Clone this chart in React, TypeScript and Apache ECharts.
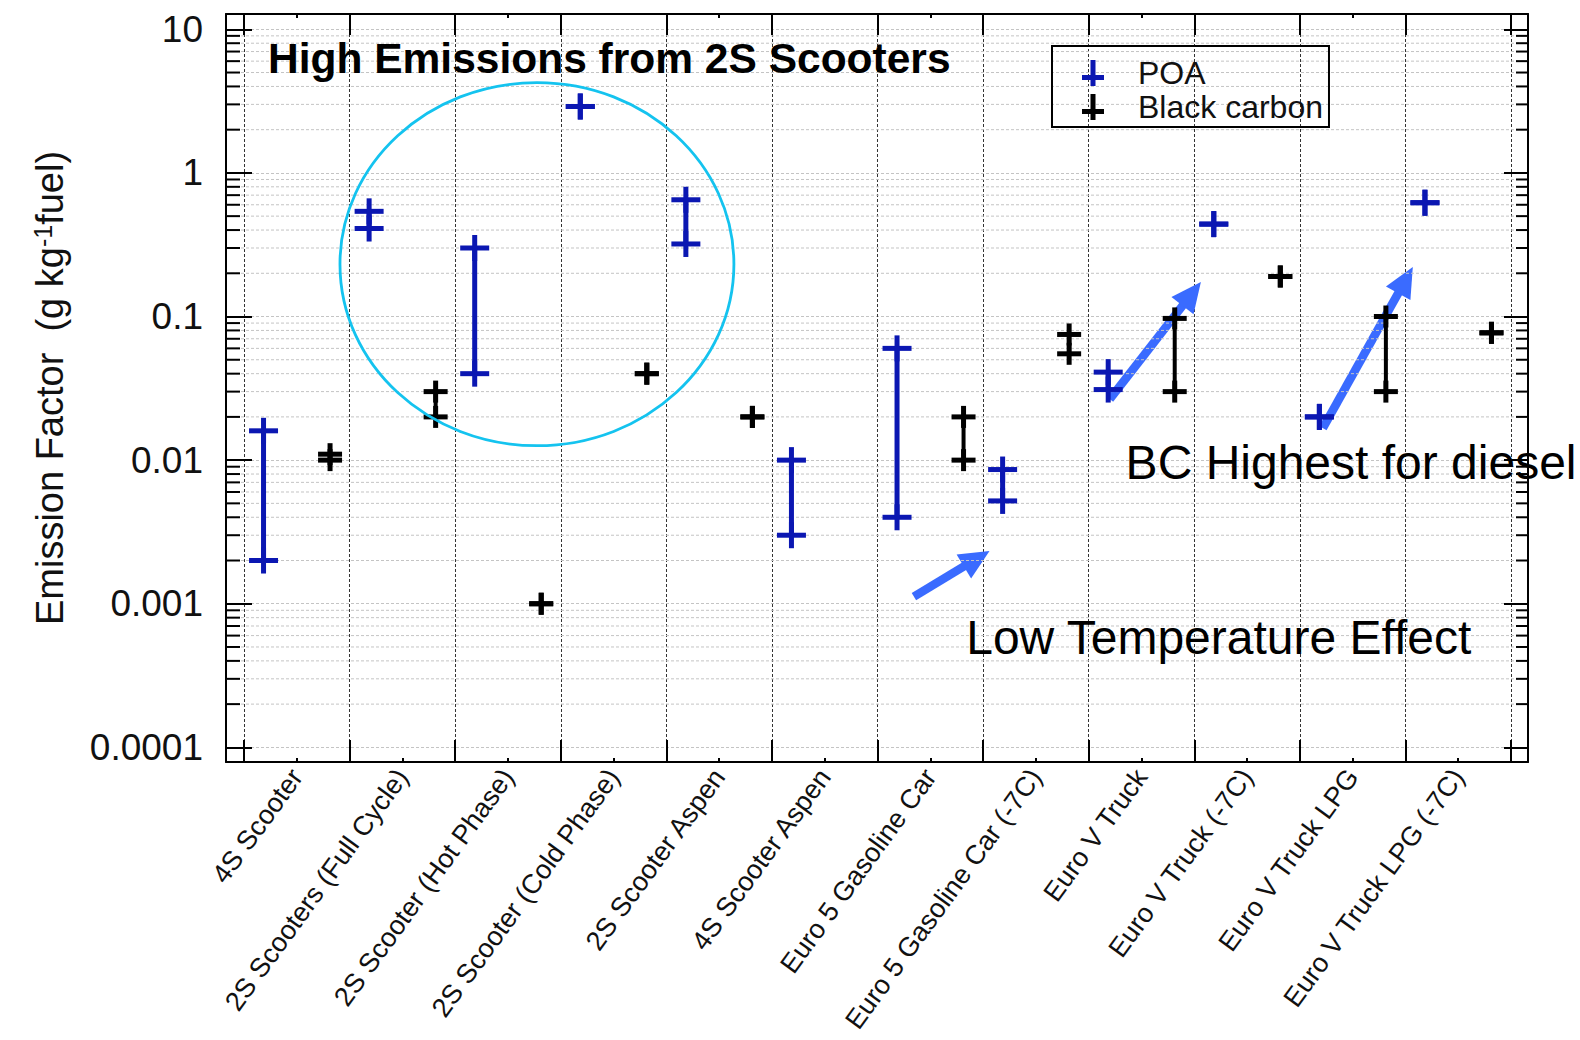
import React, { useEffect, useRef } from 'react';
import * as echarts from 'echarts';

// ---------- data ----------
const categories = [
  '4S Scooter',
  '2S Scooters (Full Cycle)',
  '2S Scooter (Hot Phase)',
  '2S Scooter (Cold Phase)',
  '2S Scooter Aspen',
  '4S Scooter Aspen',
  'Euro 5 Gasoline Car',
  'Euro 5 Gasoline Car (-7C)',
  'Euro V Truck',
  'Euro V Truck (-7C)',
  'Euro V Truck LPG',
  'Euro V Truck LPG (-7C)',
];
const poaLow = [0.002, 0.41, 0.04, 2.9, 0.32, 0.003, 0.004, 0.0052, 0.031, 0.44, 0.02, 0.62];
const poaHigh = [0.016, 0.54, 0.3, 2.9, 0.65, 0.01, 0.06, 0.0086, 0.041, 0.44, 0.02, 0.62];
const bcLow = [0.01, 0.02, 0.001, 0.04, 0.02, null, 0.01, 0.055, 0.03, 0.19, 0.03, 0.077];
const bcHigh = [0.011, 0.03, 0.001, 0.04, 0.02, null, 0.02, 0.075, 0.097, 0.19, 0.1, 0.077];
const yTickValues = [0.0001, 0.001, 0.01, 0.1, 1, 10];
const yTickLabels = ['0.0001', '0.001', '0.01', '0.1', '1', '10'];
const minorMultipliers = [2, 3, 4, 5, 6, 7, 8, 9];

// ---------- annotations (in plot data space: x in category-boundary units, y in g/kg) ----------
const ellipseBox = { x0: 0.909, x1: 4.64, yLow: 0.0126, yHigh: 4.25 };
const arrows = [
  { from: [8.2, 0.0266], to: [9.063, 0.174] },
  { from: [10.218, 0.0167], to: [11.07, 0.221] },
  { from: [6.345, 0.00112], to: [7.061, 0.00233] },
];
const notes = [
  { text: 'BC Highest for diesel', at: [8.35, 0.0097] },
  { text: 'Low Temperature Effect', at: [6.84, 0.00058] },
];

// ---------- styles ----------
const FONT = '"Liberation Sans", Arial, sans-serif';
const POA_COLOR = '#0b17b2';
const BC_COLOR = '#000000';
const ARROW_COLOR = '#3a6bff';
const ELLIPSE_COLOR = '#14c3ef';
const Y_MIN = Math.pow(10, -4.102);
const Y_MAX = Math.pow(10, 1.1065);
const PLUS = 'path://M0,15h22v5h-22z M8.5,0h5v26h-5z';

const minorValues = yTickValues
  .slice(0, -1)
  .reduce((acc: number[], d) => acc.concat(minorMultipliers.map((m) => m * d)), []);

function yLabel(v: number) {
  const lg = Math.log10(v);
  if (Math.abs(lg - Math.round(lg)) > 0.01) return '';
  const idx = yTickValues.findIndex((t) => Math.abs(Math.log10(t) - lg) < 0.01);
  return idx >= 0 ? yTickLabels[idx] : '';
}

function makeRender(offset: number, color: string, barW: number, armH: number, thick: number, lineW: number) {
  return (params: any, api: any) => {
    const cat = api.value(0);
    const lo = api.value(1);
    const hi = api.value(2);
    const pLo = api.coord([cat + 0.5 + offset, lo]);
    const pHi = api.coord([cat + 0.5 + offset, hi]);
    const x = pLo[0];
    const children: any[] = [];
    if (Math.abs(pLo[1] - pHi[1]) > 0.5) {
      children.push({
        type: 'line',
        shape: { x1: x, y1: pHi[1], x2: x, y2: pLo[1] },
        style: { stroke: color, lineWidth: lineW },
      });
    }
    [pHi[1], pLo[1]].forEach((y) => {
      children.push({
        type: 'rect',
        shape: { x: x - barW / 2, y: y - thick / 2, width: barW, height: thick },
        style: { fill: color },
      });
      children.push({
        type: 'rect',
        shape: { x: x - thick / 2, y: y - armH, width: thick, height: armH * 2 },
        style: { fill: color },
      });
    });
    return { type: 'group', children };
  };
}

function minorRender(params: any, api: any) {
  const y = api.coord([0, api.value(1)])[1];
  const cs = params.coordSys;
  return {
    type: 'group',
    children: [
      {
        type: 'line',
        shape: { x1: cs.x, y1: y, x2: cs.x + cs.width, y2: y },
        style: { stroke: '#c4c4c4', lineWidth: 1, lineDash: [3, 2] },
      },
      { type: 'line', shape: { x1: cs.x, y1: y, x2: cs.x + 14, y2: y }, style: { stroke: '#000', lineWidth: 2 } },
      {
        type: 'line',
        shape: { x1: cs.x + cs.width - 12, y1: y, x2: cs.x + cs.width, y2: y },
        style: { stroke: '#000', lineWidth: 2 },
      },
    ],
  };
}

function buildOption(): any {
  const poaData = categories.map((_, i) => [i, poaLow[i], poaHigh[i]]);
  const bcData = categories
    .map((_, i) => [i, bcLow[i], bcHigh[i]])
    .filter((d) => d[1] != null && d[2] != null);

  const frameAxis = (position: string) => ({
    gridIndex: 0,
    type: 'value',
    min: 0,
    max: 1,
    position,
    axisLine: { show: true, onZero: false, lineStyle: { color: '#000', width: 2 } },
    axisTick: { show: false },
    axisLabel: { show: false },
    splitLine: { show: false },
  });

  return {
    animation: false,
    backgroundColor: '#ffffff',
    title: {
      text: 'High Emissions from 2S Scooters',
      left: 268,
      top: 37,
      padding: 0,
      textStyle: { fontSize: 42.5, fontWeight: 'bold', fontFamily: FONT, color: '#000' },
    },
    legend: {
      data: [
        { name: 'POA', icon: PLUS, itemStyle: { color: POA_COLOR } },
        { name: 'Black carbon', icon: PLUS, itemStyle: { color: BC_COLOR } },
      ],
      orient: 'vertical',
      left: 1052,
      top: 46,
      padding: [11, 6, 4, 30],
      itemWidth: 80,
      itemHeight: 26,
      itemGap: 2,
      borderColor: '#000',
      borderWidth: 2,
      selectedMode: false,
      textStyle: { fontSize: 32, fontFamily: FONT, color: '#111', lineHeight: 32 },
    },
    grid: [
      { left: 226, top: 14, width: 1302, height: 748, containLabel: false, outerBoundsMode: 'none' },
      { left: 244, top: 14, width: 1267, height: 748, containLabel: false, outerBoundsMode: 'none' },
    ],
    xAxis: [
      frameAxis('bottom'),
      frameAxis('top'),
      {
        gridIndex: 1,
        type: 'value',
        min: 0,
        max: 12,
        interval: 1,
        position: 'bottom',
        axisLine: { show: false },
        axisTick: { show: true, inside: true, length: 22, lineStyle: { color: '#000', width: 2 } },
        axisLabel: { show: false },
        splitLine: { show: true, lineStyle: { color: '#333', width: 1, type: [3, 2] } },
      },
      {
        gridIndex: 1,
        type: 'value',
        min: 0,
        max: 12,
        interval: 1,
        position: 'top',
        axisLine: { show: false },
        axisTick: { show: true, inside: true, length: 21, lineStyle: { color: '#000', width: 2 } },
        axisLabel: { show: false },
        splitLine: { show: false },
      },
      {
        gridIndex: 1,
        type: 'category',
        data: categories,
        position: 'bottom',
        boundaryGap: true,
        axisLine: { show: false },
        axisTick: { show: true, alignWithLabel: true, inside: true, length: 4, lineStyle: { color: '#000', width: 2 } },
        axisLabel: {
          show: true,
          interval: 0,
          rotate: 54,
          margin: 10,
          fontSize: 27,
          fontFamily: FONT,
          color: '#111',
        },
        splitLine: { show: false },
      },
      {
        gridIndex: 1,
        type: 'category',
        data: categories,
        position: 'top',
        boundaryGap: true,
        axisLine: { show: false },
        axisTick: { show: true, alignWithLabel: true, inside: true, length: 4, lineStyle: { color: '#000', width: 2 } },
        axisLabel: { show: false },
        splitLine: { show: false },
      },
    ],
    yAxis: [
      {
        gridIndex: 0,
        type: 'log',
        logBase: 10,
        min: Y_MIN,
        max: Y_MAX,
        position: 'left',
        axisLine: { show: true, onZero: false, lineStyle: { color: '#000', width: 2 } },
        axisTick: { show: true, inside: true, length: 26, lineStyle: { color: '#000', width: 2 } },
        axisLabel: { formatter: yLabel, fontSize: 37, margin: 23, fontFamily: FONT, color: '#111' },
        splitLine: { show: true, lineStyle: { color: '#c4c4c4', width: 1, type: [3, 2] } },
        minorTick: { show: false },
        name: 'Emission Factor  (g kg{sup|-1}fuel)',
        nameLocation: 'middle',
        nameGap: 156,
        nameTextStyle: {
          fontSize: 38,
          fontFamily: FONT,
          color: '#111',
          lineHeight: 40,
          rich: { sup: { fontSize: 25, fontFamily: FONT, color: '#111', verticalAlign: 'top', lineHeight: 22 } },
        },
      },
      {
        gridIndex: 0,
        type: 'log',
        logBase: 10,
        min: Y_MIN,
        max: Y_MAX,
        position: 'right',
        axisLine: { show: true, onZero: false, lineStyle: { color: '#000', width: 2 } },
        axisTick: { show: true, inside: true, length: 24, lineStyle: { color: '#000', width: 2 } },
        axisLabel: { show: false },
        splitLine: { show: false },
      },
      { gridIndex: 1, type: 'log', logBase: 10, min: Y_MIN, max: Y_MAX, show: false, splitLine: { show: false } },
    ],
    series: [
      {
        type: 'custom',
        name: 'minor',
        xAxisIndex: 0,
        yAxisIndex: 0,
        silent: true,
        z: 1,
        data: minorValues.map((v) => [0, v]),
        encode: { x: 0, y: 1 },
        renderItem: minorRender,
      },
      {
        type: 'custom',
        name: 'POA',
        xAxisIndex: 2,
        yAxisIndex: 2,
        z: 5,
        itemStyle: { color: POA_COLOR },
        data: poaData,
        encode: { x: 0, y: [1, 2] },
        renderItem: makeRender(-0.315, POA_COLOR, 29, 13, 5, 5),
      },
      {
        type: 'custom',
        name: 'Black carbon',
        xAxisIndex: 2,
        yAxisIndex: 2,
        z: 5,
        itemStyle: { color: BC_COLOR },
        data: bcData,
        encode: { x: 0, y: [1, 2] },
        renderItem: makeRender(0.315, BC_COLOR, 24, 11, 5, 4),
      },
    ],
  };
}

export default function App() {
  const ref = useRef<HTMLDivElement>(null);
  useEffect(() => {
    const chart = echarts.init(ref.current as HTMLDivElement, null, { renderer: 'svg' });
    chart.setOption(buildOption());

    const px = (p: number[]) => chart.convertToPixel({ seriesIndex: 1 }, p) as unknown as number[];

    const e0 = px([ellipseBox.x0, ellipseBox.yHigh]);
    const e1 = px([ellipseBox.x1, ellipseBox.yLow]);
    const graphics: any[] = [
      {
        type: 'ellipse',
        z: 20,
        silent: true,
        shape: {
          cx: (e0[0] + e1[0]) / 2,
          cy: (e0[1] + e1[1]) / 2,
          rx: Math.abs(e1[0] - e0[0]) / 2,
          ry: Math.abs(e1[1] - e0[1]) / 2,
        },
        style: { fill: 'none', stroke: ELLIPSE_COLOR, lineWidth: 2.8 },
      },
    ];

    arrows.forEach((a) => {
      const [x1, y1] = px(a.from);
      const [x2, y2] = px(a.to);
      const dx = x2 - x1;
      const dy = y2 - y1;
      const L = Math.hypot(dx, dy);
      const ux = dx / L;
      const uy = dy / L;
      const head = 30;
      const hw = 14;
      const bx = x2 - ux * head;
      const by = y2 - uy * head;
      graphics.push({
        type: 'group',
        z: 30,
        silent: true,
        children: [
          {
            type: 'line',
            shape: { x1, y1, x2: bx + ux * 3, y2: by + uy * 3 },
            style: { stroke: ARROW_COLOR, lineWidth: 8.5 },
          },
          {
            type: 'polygon',
            shape: {
              points: [
                [x2, y2],
                [bx - uy * hw, by + ux * hw],
                [bx + uy * hw, by - ux * hw],
              ],
            },
            style: { fill: ARROW_COLOR },
          },
        ],
      });
    });

    notes.forEach((n) => {
      const [x, y] = px(n.at);
      graphics.push({
        type: 'text',
        z: 30,
        silent: true,
        x,
        y,
        style: {
          text: n.text,
          fontSize: 48,
          fontFamily: FONT,
          fill: '#000',
          align: 'left',
          verticalAlign: 'middle',
        },
      });
    });

    chart.setOption({ graphic: graphics });
    return () => chart.dispose();
  }, []);

  return (
    <div
      ref={ref}
      style={{ position: 'fixed', left: 0, top: 0, width: 1580, height: 1040, background: '#fff' }}
    />
  );
}
